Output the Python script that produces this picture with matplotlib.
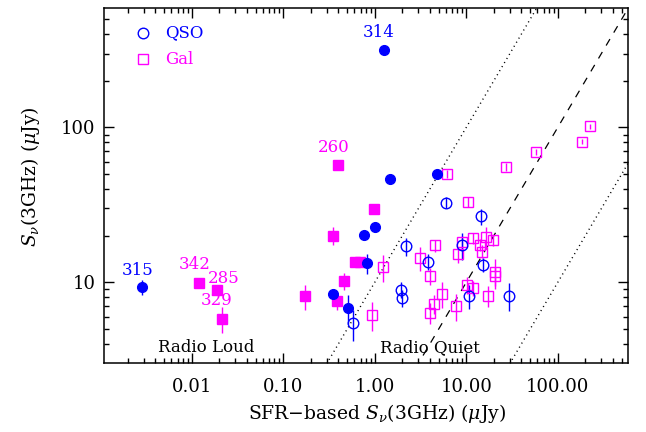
import matplotlib
matplotlib.use("Agg")
import matplotlib.pyplot as plt
import numpy as np
from matplotlib.ticker import FixedLocator, FixedFormatter, NullFormatter, LogLocator

plt.rcParams['font.family'] = ['DejaVu Serif']
plt.rcParams['mathtext.fontset'] = 'dejavuserif'

# QSO, filled (radio loud / excess)
qso_f_x = [0.00286, 1.25, 1.48, 4.74, 1.0, 0.764, 0.83, 0.348, 0.508]
qso_f_y = [9.29, 318, 46.7, 50.3, 22.9, 20.2, 13.3, 8.37, 6.84]
qso_f_err = [1.0, 0, 0, 0, 0, 0, 1.9, 0.7, 1.45]

# galaxies, filled
gal_f_x = [0.398, 0.0121, 0.0191, 0.0213, 0.175, 0.351, 0.98, 0.467, 0.388, 0.605, 0.698]
gal_f_y = [57.1, 9.9, 8.97, 5.83, 8.17, 20.0, 29.8, 10.2, 7.62, 13.6, 13.6]
gal_f_err = [0, 0.5, 0.5, 1.1, 1.5, 2.7, 0, 1.3, 1.0, 0, 0]

# QSO, open
qso_o_x = [0.575, 2.18, 3.85, 1.94, 1.99, 5.95, 14.4, 8.96, 15.1, 10.6, 29.4]
qso_o_y = [5.43, 17.1, 13.6, 8.97, 7.9, 32.7, 26.7, 17.3, 13.0, 8.21, 8.21]
qso_o_err = [1.25, 2.2, 1.6, 1.1, 1.0, 2.7, 3.1, 3.4, 1.35, 1.45, 1.7]

# galaxies, open
gal_o_x = [58, 27.3, 6.15, 10.4, 1.23, 3.1, 4.59, 3.98, 8.89, 8.18, 12.0, 16.5, 19.5, 14.2,
           15.0, 20.7, 20.7, 10.3, 11.8, 17.2, 5.42, 4.4, 4.05, 7.78, 0.93, 225, 183]
gal_o_y = [69, 55.6, 50.2, 33.2, 12.6, 14.4, 17.3, 11.0, 18.1, 15.2, 19.3, 19.6, 18.7, 17.5,
           15.8, 11.6, 11.0, 9.67, 9.2, 8.21, 8.42, 7.26, 6.35, 7.0, 6.19, 102, 80.7]
gal_o_err = [3.1, 3.4, 3.1, 2.6, 2.5, 2.6, 1.6, 1.4, 1.9, 1.8, 1.5, 3.1, 1.5, 1.6,
             1.5, 2.5, 1.5, 1.2, 1.0, 1.3, 1.6, 1.0, 1.0, 1.35, 1.3, 4, 3]

# labelled sources: (id, x, y, colour, offset in points)
ids = ['314', '260', '315', '342', '285', '329']
id_x = [1.25, 0.398, 0.00286, 0.0121, 0.0191, 0.0213]
id_y = [318, 57.1, 9.29, 9.9, 8.97, 5.83]
id_col = ['blue', 'magenta', 'blue', 'magenta', 'magenta', 'magenta']
id_off = [(-3.4, 12.2), (-3.1, 12.7), (-3.2, 12.2), (-3.1, 13), (4.8, 7.9), (-3.6, 13)]

xticks = [0.01, 0.1, 1, 10, 100]
xticklabels = ['0.01', '0.10', '1.00', '10.00', '100.00']
yticks = [10, 100]
yticklabels = ['10', '100']

fig = plt.figure(figsize=(6.46, 4.32), dpi=100)
ax = fig.add_axes([0.161, 0.1604, 0.8116, 0.8211])
ax.set_xscale('log')
ax.set_yscale('log')
ax.set_xlim(0.0011, 590)
ax.set_ylim(3.03, 590)

# 1:1 and factor 10 lines
xl = np.array([1e-4, 1e4])
ax.plot(xl, xl, color='black', lw=0.9, dashes=(6, 6))
ax.plot(xl, xl * 10, color='black', lw=1.0, dashes=(0.8, 2.6))
ax.plot(xl, xl / 10, color='black', lw=1.0, dashes=(0.8, 2.6))

ax.errorbar(gal_o_x, gal_o_y, yerr=gal_o_err, fmt='s', ms=7.3, mfc='none', mec='magenta',
            mew=1.0, ecolor='magenta', elinewidth=1.0, capsize=0)
ax.errorbar(qso_o_x, qso_o_y, yerr=qso_o_err, fmt='o', ms=7.6, mfc='none', mec='blue',
            mew=1.0, ecolor='blue', elinewidth=1.0, capsize=0)
ax.errorbar(gal_f_x, gal_f_y, yerr=gal_f_err, fmt='s', ms=7.5, color='magenta',
            ecolor='magenta', elinewidth=1.0, capsize=0)
ax.errorbar(qso_f_x, qso_f_y, yerr=qso_f_err, fmt='o', ms=7.0, color='blue',
            ecolor='blue', elinewidth=1.0, capsize=0)

for name, x, y, c, off in zip(ids, id_x, id_y, id_col, id_off):
    ax.annotate(name, (x, y), xytext=off, textcoords='offset points', color=c,
                fontsize=12, ha='center', va='center')

# legend
ax.plot([0.0744], [0.9295], 'o', ms=7.6, mfc='none', mec='blue', mew=1.0,
        transform=ax.transAxes)
ax.plot([0.0744], [0.856], 's', ms=7.3, mfc='none', mec='magenta', mew=1.0,
        transform=ax.transAxes)
ax.text(0.1163, 0.9295, 'QSO', color='blue', fontsize=12, va='center', ha='left',
        transform=ax.transAxes)
ax.text(0.1163, 0.856, 'Gal', color='magenta', fontsize=12, va='center', ha='left',
        transform=ax.transAxes)

ax.text(0.1945, 0.0415, 'Radio Loud', fontsize=12, ha='center', va='center',
        transform=ax.transAxes)
ax.text(0.622, 0.0415, 'Radio Quiet', fontsize=12, ha='center', va='center',
        transform=ax.transAxes)

ax.xaxis.set_major_locator(FixedLocator(xticks))
ax.xaxis.set_major_formatter(FixedFormatter(xticklabels))
ax.xaxis.set_minor_locator(LogLocator(base=10, subs=np.arange(2, 10), numticks=20))
ax.xaxis.set_minor_formatter(NullFormatter())
ax.yaxis.set_major_locator(FixedLocator(yticks))
ax.yaxis.set_major_formatter(FixedFormatter(yticklabels))
ax.yaxis.set_minor_locator(LogLocator(base=10, subs=np.arange(2, 10), numticks=20))
ax.yaxis.set_minor_formatter(NullFormatter())

ax.tick_params(which='both', direction='in', top=True, right=True, width=1.0, labelsize=13)
ax.tick_params(which='major', length=7.2)
ax.tick_params(which='minor', length=3.6)
ax.tick_params(axis='x', pad=11)
ax.tick_params(axis='y', pad=6)
for s in ax.spines.values():
    s.set_linewidth(1.1)

ax.set_xlabel(r'SFR$-$based $S_\nu$(3GHz) ($\mu$Jy)', fontsize=13.5)
ax.set_ylabel(r'$S_\nu$(3GHz) ($\mu$Jy)', fontsize=13.5)
ax.xaxis.set_label_coords(0.52, -0.11)
ax.yaxis.set_label_coords(-0.119, 0.5235)

fig.savefig('out.png', dpi=100)
